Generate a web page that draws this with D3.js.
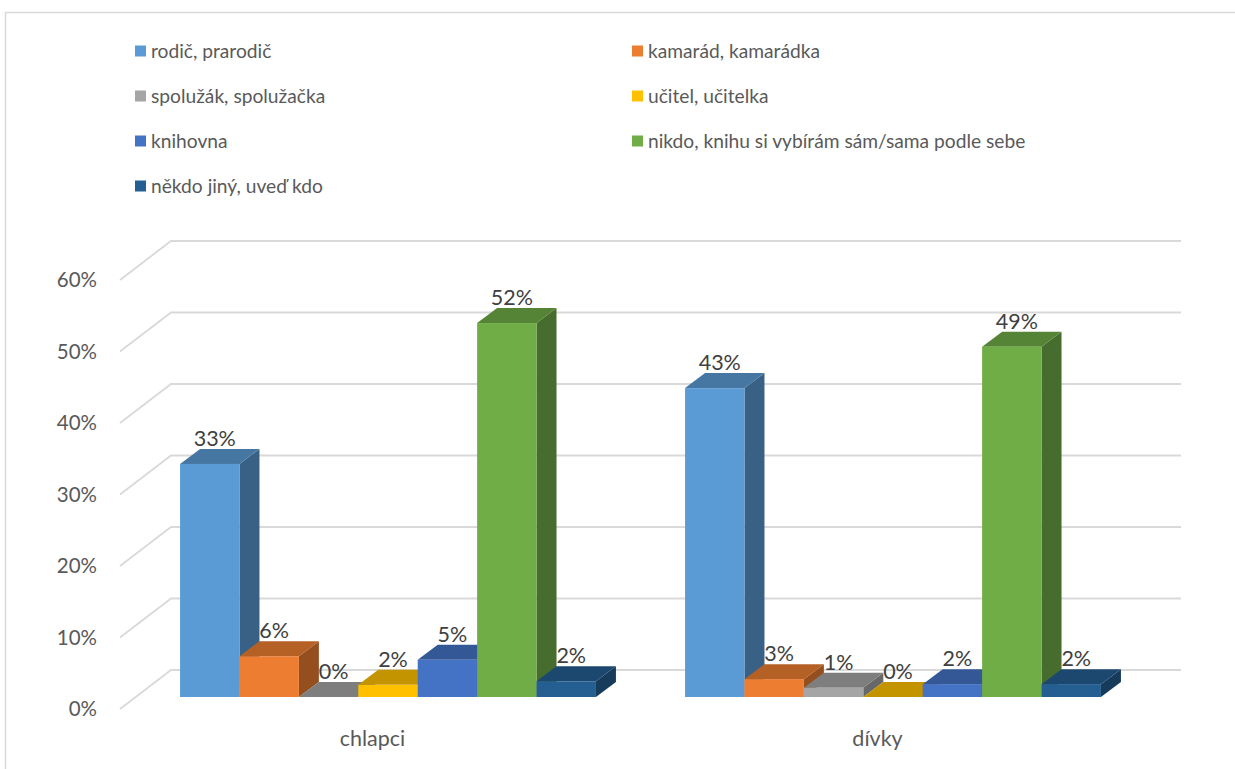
<!DOCTYPE html>
<meta charset="utf-8">
<script src="https://d3js.org/d3.v7.min.js"></script>
<style>
  body { margin: 0; background: #fff; }
  text { font-family: Lato, "Open Sans", sans-serif; }
</style>
<div id="my_dataviz"></div>
<script>
// data
var categories = ["chlapci", "dívky"];
var seriesNames = ["rodič, prarodič", "kamarád, kamarádka", "spolužák, spolužačka", "učitel, učitelka",
                   "knihovna", "nikdo, knihu si vybírám sám/sama podle sebe", "někdo jiný, uveď kdo"];
var boysValues  = [32.6, 5.7, 0, 1.7, 5.2, 52.3, 2.2];
var girlsValues = [43.2, 2.5, 1.3, 0, 1.8, 49.0, 1.8];
var yTicks = [0, 10, 20, 30, 40, 50, 60];
var colors = ["#5B9BD5", "#ED7D31", "#A5A5A5", "#FFC000", "#4472C4", "#70AD47", "#255E91"];

var W = 1235, H = 769;
var svg = d3.select("#my_dataviz").append("svg")
  .attr("width", W).attr("height", H);

// chart border
svg.append("rect")
  .attr("x", 5.5).attr("y", 12.5).attr("width", 1260).attr("height", 800)
  .attr("fill", "none").attr("stroke", "#D9D9D9").attr("stroke-width", 1.5);

// 3d geometry: front plane of the floor, wall depth, bar depth
var wallDx = 51, wallDy = -39;
var barOffX = 15.5, barOffY = -12;   // bars sit in the middle of the floor depth
var barDx = 20, barDy = -15;

var y = d3.scaleLinear().domain([0, 60]).range([709, 280]);
var x0 = d3.scaleBand().domain(categories).range([120, 1130]);
var x1 = d3.scaleBand().domain(seriesNames).range([0, x0.bandwidth()])
  .paddingInner(0).paddingOuter(0.75);

// gridlines (side wall diagonal + back wall)
svg.append("g").selectAll("path").data(yTicks).enter().append("path")
  .attr("d", function(t) {
    var yy = y(t);
    return "M" + x0.range()[0] + "," + yy + "L" + (x0.range()[0] + wallDx) + "," + (yy + wallDy) +
           "L" + (x0.range()[1] + wallDx) + "," + (yy + wallDy);
  })
  .attr("fill", "none").attr("stroke", "#D9D9D9").attr("stroke-width", 1.8);

// y axis labels
svg.append("g").selectAll("text").data(yTicks).enter().append("text")
  .attr("x", 97).attr("y", function(t) { return y(t); })
  .attr("dy", "0.36em").attr("text-anchor", "end")
  .style("font-size", "20.5px").style("fill", "#595959")
  .text(function(t) { return t + "%"; });

// bars
var dataReady = [];
categories.forEach(function(c, ci) {
  var vals = ci === 0 ? boysValues : girlsValues;
  seriesNames.forEach(function(s, si) {
    dataReady.push({cat: c, name: s, value: vals[si], color: colors[si]});
  });
});

var bars = svg.append("g").selectAll("g").data(dataReady).enter().append("g");

function geom(d) {
  var xl = x0(d.cat) + x1(d.name) + barOffX;
  var w = x1.bandwidth();
  var yb = y(0) + barOffY;
  var yt = y(d.value) + barOffY;
  return {xl: xl, xr: xl + w, yb: yb, yt: yt};
}

// side face
bars.append("path")
  .attr("d", function(d) {
    var g = geom(d);
    return "M" + g.xr + "," + g.yb + "L" + (g.xr + barDx) + "," + (g.yb + barDy) +
           "L" + (g.xr + barDx) + "," + (g.yt + barDy) + "L" + g.xr + "," + g.yt + "Z";
  })
  .attr("fill", function(d) { return d3.color(d.color).darker(1.3); });
// top face
bars.append("path")
  .attr("d", function(d) {
    var g = geom(d);
    return "M" + g.xl + "," + g.yt + "L" + g.xr + "," + g.yt +
           "L" + (g.xr + barDx) + "," + (g.yt + barDy) + "L" + (g.xl + barDx) + "," + (g.yt + barDy) + "Z";
  })
  .attr("fill", function(d) { return d3.color(d.color).darker(0.75); });
// front face
bars.append("rect")
  .attr("x", function(d) { return geom(d).xl; })
  .attr("y", function(d) { return geom(d).yt; })
  .attr("width", x1.bandwidth())
  .attr("height", function(d) { var g = geom(d); return g.yb - g.yt; })
  .attr("fill", function(d) { return d.color; });

// data labels
bars.append("text")
  .attr("x", function(d) { var g = geom(d); return (g.xl + g.xr) / 2 + 5; })
  .attr("y", function(d) { return geom(d).yt + barDy - 3; })
  .attr("text-anchor", "middle")
  .style("font-size", "21.5px").style("fill", "#404040")
  .text(function(d) { return Math.round(d.value) + "%"; });

// category labels
svg.append("g").selectAll("text").data(categories).enter().append("text")
  .attr("x", function(c) { return x0(c) + x0.bandwidth() / 2; })
  .attr("y", y(0) + 37)
  .attr("text-anchor", "middle")
  .style("font-size", "21.5px").style("fill", "#595959")
  .text(function(c) { return c; });

// legend: two columns
var legend = svg.append("g").selectAll("g").data(seriesNames).enter().append("g")
  .attr("transform", function(d, i) {
    var col = i % 2, row = Math.floor(i / 2);
    return "translate(" + (col === 0 ? 135 : 632) + "," + (51 + row * 45) + ")";
  });
legend.append("rect")
  .attr("x", 0).attr("y", -5.5).attr("width", 11).attr("height", 11)
  .attr("fill", function(d, i) { return colors[i]; });
legend.append("text")
  .attr("x", 16).attr("y", 0).attr("dy", "0.36em")
  .style("font-size", "19.2px").style("fill", "#595959")
  .text(function(d) { return d; });
</script>
